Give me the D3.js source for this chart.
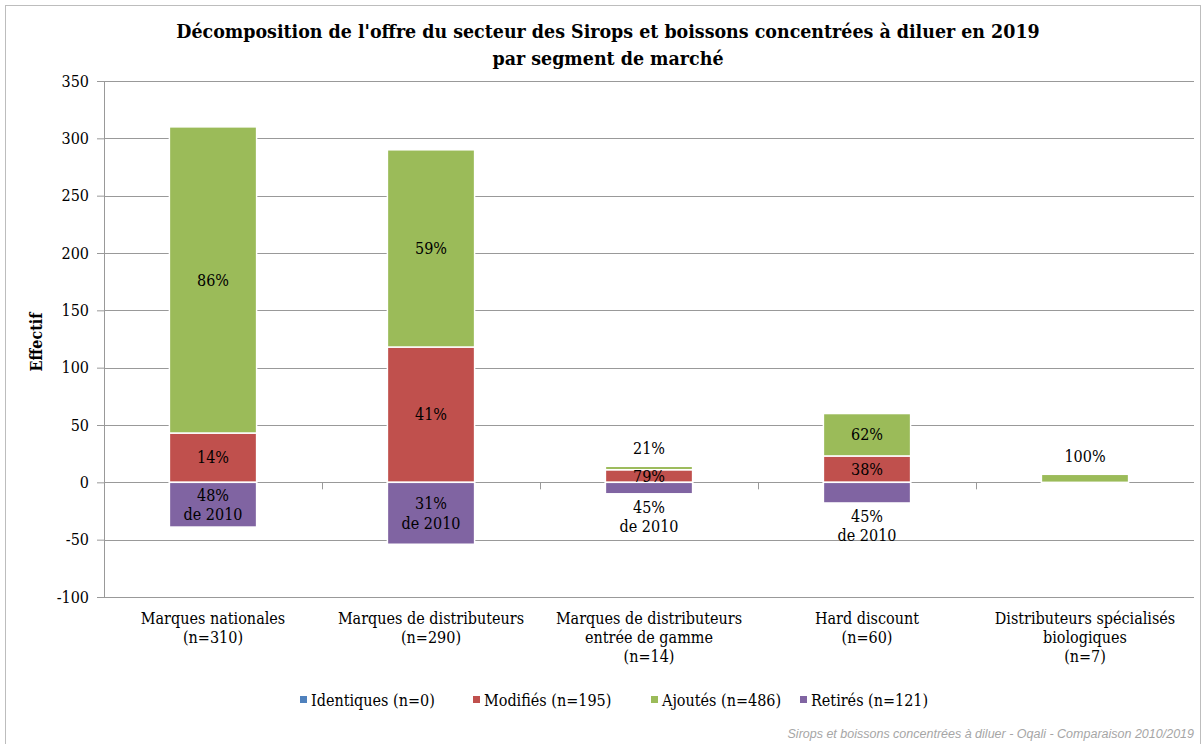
<!DOCTYPE html>
<html>
<head>
<meta charset="utf-8">
<script src="https://cdn.jsdelivr.net/npm/d3@7"></script>
<style>
  body { margin: 0; background: #fff; }
  svg text { font-family: "DejaVu Serif Condensed", "Noto Serif", serif; fill: #000; }
</style>
</head>
<body>
<div id="chart"></div>
<script>
var categories = [
  ["Marques nationales", "(n=310)"],
  ["Marques de distributeurs", "(n=290)"],
  ["Marques de distributeurs", "entrée de gamme", "(n=14)"],
  ["Hard discount", "(n=60)"],
  ["Distributeurs spécialisés", "biologiques", "(n=7)"]
];
var identiques = [0, 0, 0, 0, 0];
var modifies = [43, 118, 11, 23, 0];
var ajoutes = [267, 172, 3, 37, 7];
var retires = [-39, -54, -10, -18, 0];
var modifiesLabels = ["14%", "41%", "79%", "38%", ""];
var ajoutesLabels = ["86%", "59%", "21%", "62%", "100%"];
var retiresLabels = ["48%", "31%", "45%", "45%", ""];
var legendLabels = ["Identiques (n=0)", "Modifiés (n=195)", "Ajoutés (n=486)", "Retirés (n=121)"];
var yTicks = [350, 300, 250, 200, 150, 100, 50, 0, -50, -100];

var W = 1203, H = 744;
var margin = {top: 81, right: 9, bottom: 147, left: 104};
var width = W - margin.left - margin.right,
    height = H - margin.top - margin.bottom;
var colors = ["#4F81BD", "#C0504D", "#9BBB59", "#8064A2"];

var svg = d3.select("#chart").append("svg").attr("width", W).attr("height", H);

svg.append("rect").attr("x", 5.5).attr("y", 5.5).attr("width", W - 8).attr("height", H - 5)
  .style("fill", "none").style("stroke", "#bdbdbd");

svg.append("text").attr("x", 608).attr("y", 38).attr("text-anchor", "middle")
  .style("font-weight", "bold").style("font-size", "19.4px")
  .text("Décomposition de l'offre du secteur des Sirops et boissons concentrées à diluer en 2019");
svg.append("text").attr("x", 608).attr("y", 65).attr("text-anchor", "middle")
  .style("font-weight", "bold").style("font-size", "19.4px")
  .text("par segment de marché");

var g = svg.append("g").attr("transform", "translate(" + margin.left + "," + margin.top + ")");

var x = d3.scaleBand().domain(d3.range(categories.length)).range([0, width]).paddingInner(0.6).paddingOuter(0.3);
var y = d3.scaleLinear().domain([-100, 350]).range([height, 0]);

// grid
g.selectAll(".grid").data(yTicks).enter().append("line")
  .attr("x1", 0).attr("x2", width)
  .attr("y1", d => Math.round(y(d)) + 0.5).attr("y2", d => Math.round(y(d)) + 0.5)
  .style("stroke", "#999").style("stroke-width", 1);

// y axis
var yAxis = g.append("g").call(d3.axisLeft(y).tickValues(yTicks).tickFormat(d => String(d)).tickSize(7).tickPadding(8));
yAxis.select(".domain").style("stroke", "#999");
yAxis.selectAll(".tick line").style("stroke", "#999");
yAxis.selectAll("text").style("font-size", "16px").style("font-family", "DejaVu Serif Condensed, serif");

svg.append("text").attr("transform", "translate(42,342) rotate(-90)").attr("text-anchor", "middle")
  .style("font-weight", "bold").style("font-size", "16px").text("Effectif");

// x ticks at zero line between categories
var step = x.step();
g.selectAll(".xtick").data(d3.range(1, categories.length)).enter().append("line")
  .attr("x1", d => Math.round(d * step) + 0.5).attr("x2", d => Math.round(d * step) + 0.5)
  .attr("y1", y(0)).attr("y2", y(0) + 7)
  .style("stroke", "#999");

// stacked segments
var bars = g.append("g");
categories.forEach(function (cat, i) {
  var bottom = 0;
  [identiques, modifies, ajoutes].forEach(function (arr, k) {
    var v = arr[i];
    if (v > 0) {
      bars.append("rect").attr("x", x(i)).attr("width", x.bandwidth())
        .attr("y", y(bottom + v)).attr("height", y(bottom) - y(bottom + v))
        .style("fill", colors[k]).style("stroke", "#fff").style("stroke-width", 1.5);
    }
    bottom += v;
  });
  if (retires[i] < 0) {
    bars.append("rect").attr("x", x(i)).attr("width", x.bandwidth())
      .attr("y", y(0)).attr("height", y(retires[i]) - y(0))
      .style("fill", colors[3]).style("stroke", "#fff").style("stroke-width", 1.5);
  }
});

// labels
var lab = g.append("g").style("font-size", "16px").attr("text-anchor", "middle");
categories.forEach(function (cat, i) {
  var cx = x(i) + x.bandwidth() / 2;
  if (modifiesLabels[i]) {
    lab.append("text").attr("x", cx).attr("y", y(modifies[i] / 2)).attr("dy", "0.35em").text(modifiesLabels[i]);
  }
  var top = modifies[i] + ajoutes[i];
  if (ajoutes[i] >= 15) {
    lab.append("text").attr("x", cx).attr("y", y(modifies[i] + ajoutes[i] / 2)).attr("dy", "0.35em").text(ajoutesLabels[i]);
  } else if (ajoutesLabels[i]) {
    lab.append("text").attr("x", cx).attr("y", y(top) - 12).text(ajoutesLabels[i]);
  }
  if (retiresLabels[i]) {
    var t = lab.append("text").attr("x", cx);
    if (retires[i] <= -30) {
      t.attr("y", y(retires[i] / 2) - 9.5).attr("dy", "0.35em");
    } else {
      t.attr("y", y(retires[i]) + 19);
    }
    t.append("tspan").attr("x", cx).text(retiresLabels[i]);
    t.append("tspan").attr("x", cx).attr("dy", "1.2em").text("de 2010");
  }
});

// category labels
categories.forEach(function (lines, i) {
  var t = g.append("text").attr("x", x(i) + x.bandwidth() / 2).attr("y", height + 27)
    .attr("text-anchor", "middle").style("font-size", "16px");
  lines.forEach(function (l, j) {
    t.append("tspan").attr("x", x(i) + x.bandwidth() / 2).attr("dy", j ? "1.2em" : 0).text(l);
  });
});

// legend
var legX = [300, 473, 651, 800];
var leg = svg.append("g");
legendLabels.forEach(function (l, i) {
  leg.append("rect").attr("x", legX[i]).attr("y", 696).attr("width", 7).attr("height", 7).style("fill", colors[i]);
  leg.append("text").attr("x", legX[i] + 11).attr("y", 706).style("font-size", "16px").text(l);
});

svg.append("text").attr("x", 1194).attr("y", 738).attr("text-anchor", "end")
  .style("font-style", "italic").style("font-size", "12.5px").style("fill", "#a6a6a6")
  .style("font-family", "Liberation Sans, sans-serif")
  .text("Sirops et boissons concentrées à diluer - Oqali - Comparaison 2010/2019");
</script>
</body>
</html>
